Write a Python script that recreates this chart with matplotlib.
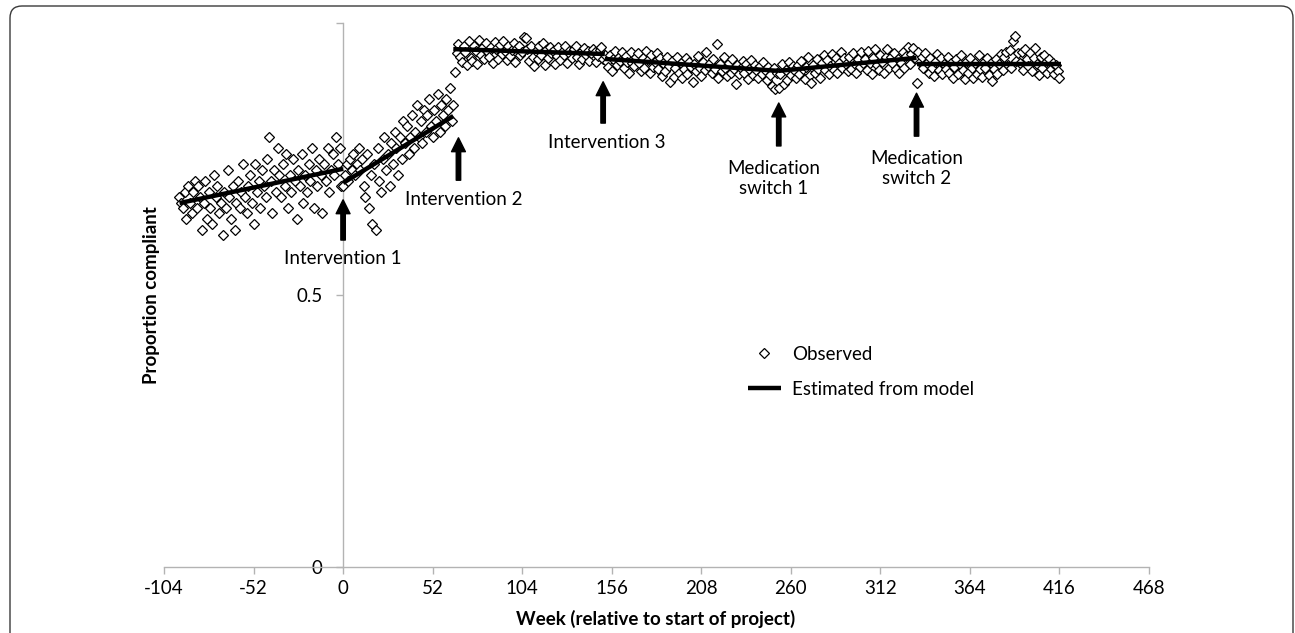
import numpy as np
import matplotlib
matplotlib.use("Agg")
import matplotlib.pyplot as plt
from matplotlib.patches import FancyBboxPatch
from matplotlib.transforms import IdentityTransform

plt.rcParams["font.family"] = ["Lato", "DejaVu Sans"]
plt.rcParams["axes.unicode_minus"] = False

# ── Observed weekly compliance (weeks -95 .. 416) ─────────────────────────────
weeks = np.arange(-95, 417)

obs_pre = [  # weeks -95 .. -1
    0.68, 0.67, 0.66, 0.69, 0.64, 0.70, 0.67, 0.65, 0.69, 0.71,
    0.66, 0.70, 0.68, 0.62, 0.67, 0.71, 0.64, 0.69, 0.66, 0.63,
    0.72, 0.68, 0.70, 0.65, 0.67, 0.61, 0.69, 0.66, 0.73, 0.68,
    0.64, 0.70, 0.62, 0.67, 0.71, 0.66, 0.69, 0.74, 0.68, 0.65,
    0.70, 0.72, 0.67, 0.63, 0.74, 0.69, 0.71, 0.66, 0.73, 0.70,
    0.68, 0.75, 0.79, 0.71, 0.65, 0.73, 0.69, 0.77, 0.72, 0.68,
    0.74, 0.70, 0.76, 0.66, 0.72, 0.69, 0.75, 0.71, 0.64, 0.73,
    0.70, 0.76, 0.67, 0.72, 0.69, 0.74, 0.71, 0.77, 0.66, 0.73,
    0.70, 0.75, 0.72, 0.65, 0.74, 0.71, 0.77, 0.69, 0.73, 0.76,
    0.72, 0.79, 0.74, 0.77, 0.70,
]
obs_int1 = [  # weeks 0 .. 64
    0.70, 0.72, 0.74, 0.71, 0.75, 0.73, 0.76, 0.72, 0.74, 0.77,
    0.73, 0.75, 0.70, 0.68, 0.76, 0.66, 0.72, 0.63, 0.74, 0.62,
    0.77, 0.71, 0.69, 0.75, 0.79, 0.73, 0.76, 0.70, 0.78, 0.74,
    0.80, 0.77, 0.72, 0.79, 0.75, 0.82, 0.78, 0.81, 0.76, 0.79,
    0.83, 0.77, 0.80, 0.85, 0.79, 0.82, 0.78, 0.84, 0.80, 0.83,
    0.86, 0.81, 0.79, 0.84, 0.82, 0.87, 0.80, 0.85, 0.83, 0.81,
    0.86, 0.84, 0.88, 0.82, 0.85,
]
obs_int2 = [  # weeks 65 .. 152
    0.91, 0.945, 0.962, 0.938, 0.928, 0.957, 0.947, 0.922, 0.966, 0.936,
    0.931, 0.958, 0.949, 0.924, 0.968, 0.941, 0.955, 0.933, 0.964, 0.946,
    0.937, 0.956, 0.926, 0.965, 0.952, 0.934, 0.959, 0.943, 0.967, 0.948,
    0.932, 0.957, 0.939, 0.951, 0.963, 0.929, 0.954, 0.958, 0.942, 0.947,
    0.975, 0.972, 0.953, 0.931, 0.957, 0.938, 0.921, 0.949, 0.934, 0.958,
    0.942, 0.963, 0.923, 0.951, 0.935, 0.956, 0.944, 0.948, 0.925, 0.939,
    0.955, 0.932, 0.947, 0.941, 0.958, 0.927, 0.949, 0.943, 0.936, 0.952,
    0.957, 0.938, 0.924, 0.946, 0.933, 0.954, 0.942, 0.948, 0.931, 0.944,
    0.953, 0.947, 0.928, 0.939, 0.951, 0.956, 0.934, 0.941,
]
obs_int3 = [  # weeks 153 .. 252
    0.928, 0.919, 0.941, 0.912, 0.934, 0.948, 0.922, 0.937, 0.931, 0.946,
    0.918, 0.939, 0.929, 0.909, 0.947, 0.926, 0.921, 0.938, 0.944, 0.927,
    0.911, 0.936, 0.917, 0.949, 0.932, 0.908, 0.941, 0.919, 0.928, 0.944,
    0.916, 0.935, 0.903, 0.927, 0.912, 0.938, 0.921, 0.892, 0.931, 0.901,
    0.918, 0.937, 0.909, 0.926, 0.898, 0.915, 0.936, 0.907, 0.928, 0.919,
    0.891, 0.925, 0.911, 0.939, 0.917, 0.902, 0.929, 0.913, 0.946, 0.921,
    0.927, 0.908, 0.934, 0.916, 0.962, 0.899, 0.924, 0.912, 0.937, 0.918,
    0.903, 0.926, 0.909, 0.934, 0.915, 0.888, 0.922, 0.906, 0.917, 0.931,
    0.908, 0.924, 0.897, 0.916, 0.932, 0.905, 0.923, 0.914, 0.899, 0.921,
    0.907, 0.929, 0.913, 0.895, 0.919, 0.904, 0.884, 0.918, 0.878, 0.909,
]
obs_ms1 = [  # weeks 253 .. 332
    0.881, 0.906, 0.924, 0.887, 0.913, 0.896, 0.928, 0.905, 0.921, 0.914,
    0.898, 0.922, 0.907, 0.931, 0.916, 0.897, 0.919, 0.938, 0.904, 0.889,
    0.923, 0.908, 0.934, 0.915, 0.899, 0.926, 0.941, 0.913, 0.932, 0.906,
    0.921, 0.943, 0.914, 0.935, 0.909, 0.927, 0.946, 0.918, 0.936, 0.924,
    0.911, 0.937, 0.916, 0.944, 0.925, 0.908, 0.933, 0.919, 0.947, 0.926,
    0.934, 0.914, 0.948, 0.927, 0.906, 0.936, 0.952, 0.922, 0.913, 0.942,
    0.928, 0.909, 0.937, 0.953, 0.917, 0.938, 0.926, 0.945, 0.915, 0.934,
    0.908, 0.927, 0.947, 0.918, 0.939, 0.955, 0.924, 0.943, 0.954, 0.936,
]
obs_ms2 = [  # weeks 333 .. 416
    0.890, 0.946, 0.928, 0.937, 0.918, 0.944, 0.926, 0.909, 0.935, 0.917,
    0.902, 0.929, 0.943, 0.914, 0.936, 0.907, 0.925, 0.916, 0.938, 0.908,
    0.927, 0.899, 0.919, 0.934, 0.906, 0.924, 0.942, 0.913, 0.897, 0.928,
    0.909, 0.935, 0.917, 0.898, 0.926, 0.906, 0.941, 0.915, 0.901, 0.929,
    0.918, 0.936, 0.904, 0.927, 0.893, 0.916, 0.934, 0.907, 0.925, 0.943,
    0.914, 0.937, 0.946, 0.922, 0.951, 0.918, 0.966, 0.976, 0.931, 0.944,
    0.926, 0.947, 0.913, 0.952, 0.933, 0.921, 0.945, 0.912, 0.936, 0.954,
    0.924, 0.905, 0.938, 0.917, 0.942, 0.928, 0.909, 0.933, 0.915, 0.927,
    0.906, 0.923, 0.912, 0.899,
]
observed = np.array(obs_pre + obs_int1 + obs_int2 + obs_int3 + obs_ms1 + obs_ms2)

# ── Segmented model fit (start week, end week, start value, end value) ────────
seg_x0 = [-95, 0, 64, 152, 253, 333]
seg_x1 = [0, 64, 152, 253, 333, 417]
seg_y0 = [0.669, 0.706, 0.952, 0.934, 0.912, 0.925]
seg_y1 = [0.732, 0.829, 0.943, 0.912, 0.936, 0.925]

# ── Event annotations ─────────────────────────────────────────────────────────
ev_week  = [0, 67, 151, 253, 333]
ev_label = ["Intervention 1", "Intervention 2", "Intervention 3",
            "Medication\nswitch 1", "Medication\nswitch 2"]
ev_tip   = [0.675, 0.789, 0.892, 0.853, 0.871]
ev_tail  = [0.601, 0.711, 0.816, 0.774, 0.792]
ev_text_x = [0, 70, 153, 250, 333]
ev_text_y = [0.567, 0.676, 0.781, 0.714, 0.732]

# ── Figure ────────────────────────────────────────────────────────────────────
W, H = 1295, 633
FS = 13.5
fig = plt.figure(figsize=(W / 100, H / 100), dpi=100)
ax = fig.add_axes([164 / W, 1 - 567 / H, (1149 - 164) / W, (567 - 23) / H])

ax.plot(weeks, observed, ls="none", marker="D", ms=4.6, mfc="white",
        mec="black", mew=0.9, label="Observed", zorder=3)
for i in range(len(seg_x0)):
    ax.plot([seg_x0[i], seg_x1[i]], [seg_y0[i], seg_y1[i]], color="black",
            lw=3.2, solid_capstyle="butt", zorder=4,
            label="Estimated from model" if i == 0 else None)

for wk, lab, tip, tail, tx, ty in zip(ev_week, ev_label, ev_tip, ev_tail,
                                      ev_text_x, ev_text_y):
    ax.annotate("", xy=(wk, tip), xytext=(wk, tail),
                arrowprops=dict(facecolor="black", edgecolor="black",
                                width=3.2, headwidth=10, headlength=10,
                                shrink=0), zorder=5)
    ax.text(tx, ty, lab, ha="center", va="center", fontsize=FS,
            linespacing=1.2, zorder=5)

ax.set_xlim(-104, 468)
ax.set_ylim(0, 1)
ax.set_xticks(np.arange(-104, 469, 52))
ax.set_yticks([0, 0.5, 1])
ax.set_yticklabels(["0", "0.5", ""])

for s in ["top", "right"]:
    ax.spines[s].set_visible(False)
ax.spines["left"].set_position(("data", 0))
for s in ["left", "bottom"]:
    ax.spines[s].set_color("#b3b3b3")
    ax.spines[s].set_linewidth(1.0)
ax.tick_params(axis="both", direction="out", length=5, width=1.0,
               color="#b3b3b3", labelsize=FS, labelcolor="black")
ax.tick_params(axis="y", pad=10)
ax.tick_params(axis="x", pad=4)

leg = ax.legend(loc="upper left", bbox_to_anchor=(748 / W, 1 - 346 / H),
                bbox_transform=fig.transFigure, frameon=False, fontsize=FS,
                borderpad=0, borderaxespad=0, handlelength=1.75,
                handletextpad=0.6, labelspacing=0.95)

fig.text(656 / W, 1 - 619 / H, "Week (relative to start of project)",
         ha="center", va="center", fontsize=FS, fontweight="bold")
fig.text(152 / W, 1 - 295 / H, "Proportion compliant", ha="center",
         va="center", rotation=90, fontsize=FS, fontweight="bold")

frame = FancyBboxPatch((10, -40), 1283, H - 6 + 40,
                       boxstyle="round,pad=0,rounding_size=12",
                       transform=IdentityTransform(), fill=False,
                       edgecolor="#3a3a3a", lw=1.0)
fig.patches.append(frame)

fig.savefig("out.png", dpi=100)
plt.close(fig)
